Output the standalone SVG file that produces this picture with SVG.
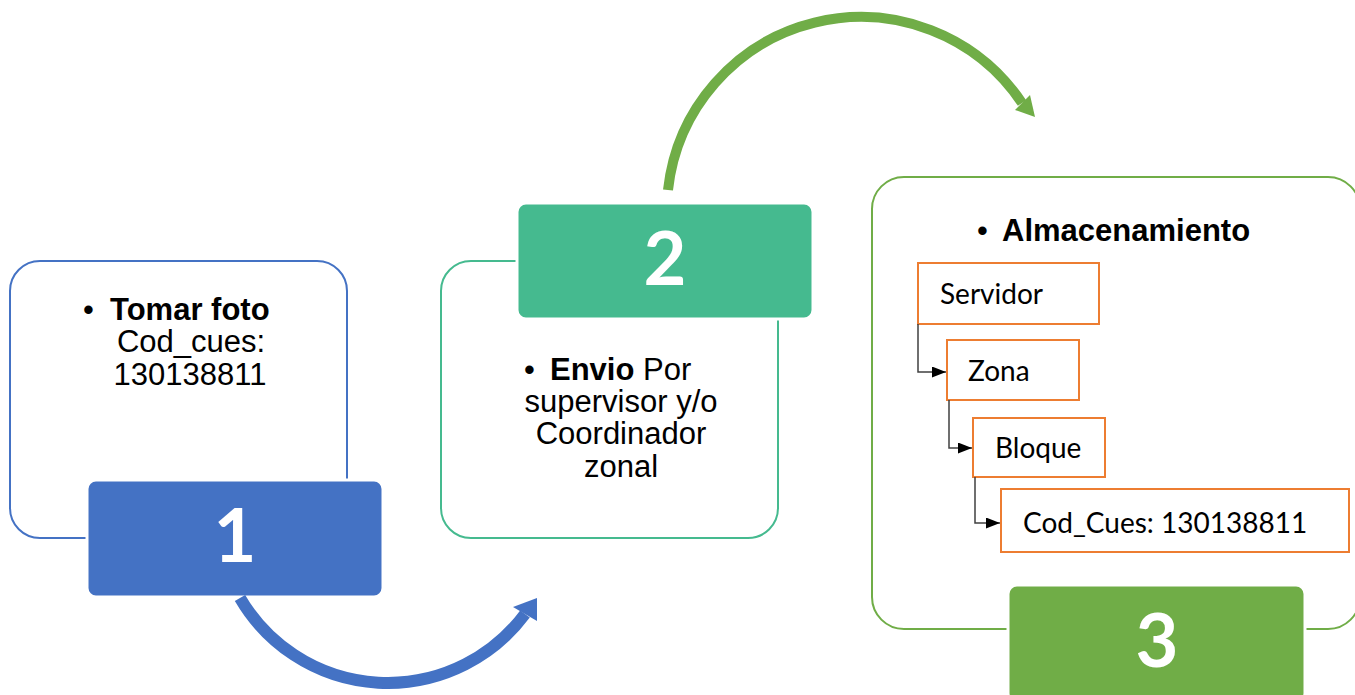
<svg xmlns="http://www.w3.org/2000/svg" width="1355" height="695" viewBox="0 0 1355 695">
<style>
.outline{fill:#fff;stroke-width:2}
.num{stroke:#fff;stroke-width:3}
.numtxt{font-family:Lato,"Open Sans",sans-serif;font-weight:bold;font-size:74px;fill:#fff;text-anchor:middle}
.ar{font-family:"Liberation Sans",Arial,sans-serif;font-size:31px;fill:#000}
.b{font-weight:bold}
.mid{text-anchor:middle}
.leaf{fill:#fff;stroke:#ED7D31;stroke-width:2}
.cal{font-family:Lato,"Open Sans",sans-serif;font-size:28px;fill:#000}
.tree{fill:none;stroke:#404040;stroke-width:1.5}
</style>
<defs>
<marker id="tri" markerUnits="userSpaceOnUse" markerWidth="14" markerHeight="11" refX="14" refY="5.5" orient="auto">
<path d="M0,0 L14,5.5 L0,11 z" fill="#000"/>
</marker>
</defs>

<g id="node1">
<rect class="outline" x="10" y="261" width="337" height="277" rx="30" stroke="#4472C4"/>
<text class="ar" x="83" y="320">•</text>
<text class="ar b" x="110" y="320">Tomar foto</text>
<text class="ar mid" x="191" y="352">Cod_cues:</text>
<text class="ar mid" x="190" y="385">130138811</text>
<rect class="num" x="87" y="480" width="296" height="117" rx="9" fill="#4472C4"/>
<text class="numtxt" x="235" y="562">1</text>
</g>

<g id="node2">
<rect class="outline" x="441" y="261" width="337" height="277" rx="30" stroke="#45BA8F"/>
<text class="ar" x="524" y="380">•</text>
<text class="ar" x="550" y="380"><tspan class="b">Envio</tspan> Por</text>
<text class="ar mid" x="621" y="412">supervisor y/o</text>
<text class="ar mid" x="621" y="444">Coordinador</text>
<text class="ar mid" x="621" y="477">zonal</text>
<rect class="num" x="517" y="203" width="296" height="116" rx="9" fill="#45BA8F"/>
<text class="numtxt" x="665" y="285">2</text>
</g>

<g id="node3">
<rect class="outline" x="872" y="177" width="488" height="452" rx="32" stroke="#70AD47"/>
<text class="ar" x="977" y="241">•</text>
<text class="ar b" x="1002" y="241">Almacenamiento</text>
<rect class="num" x="1008" y="585" width="297" height="117" rx="9" fill="#70AD47"/>
<text class="numtxt" x="1157" y="667">3</text>
</g>

<g id="servidor">
<rect class="leaf" x="918" y="263" width="181" height="61"/>
<text class="cal" x="940" y="304">Servidor</text>
</g>
<g id="zona">
<rect class="leaf" x="947" y="340" width="132" height="60"/>
<text class="cal" x="968" y="381">Zona</text>
</g>
<g id="bloque">
<rect class="leaf" x="973" y="418" width="132" height="59"/>
<text class="cal" x="995" y="458">Bloque</text>
</g>
<g id="codcues">
<rect class="leaf" x="1001" y="489" width="348" height="63"/>
<text class="cal" x="1023" y="533">Cod_Cues: 130138811</text>
</g>

<g id="connectors">
<path d="M240,598 A171,171 0 0 0 525,614" fill="none" stroke="#4472C4" stroke-width="12"/>
<polygon points="513,607 537,598 537,621" fill="#4472C4"/>
<path d="M668,190 A194,194 0 0 1 1022,103" fill="none" stroke="#70AD47" stroke-width="10"/>
<polygon points="1030,95 1035,117 1015,110" fill="#70AD47"/>
<path class="tree" d="M918,324 V372 H946" marker-end="url(#tri)"/>
<path class="tree" d="M949,400 V448 H972" marker-end="url(#tri)"/>
<path class="tree" d="M975,477 V523 H1000" marker-end="url(#tri)"/>
</g>
</svg>
